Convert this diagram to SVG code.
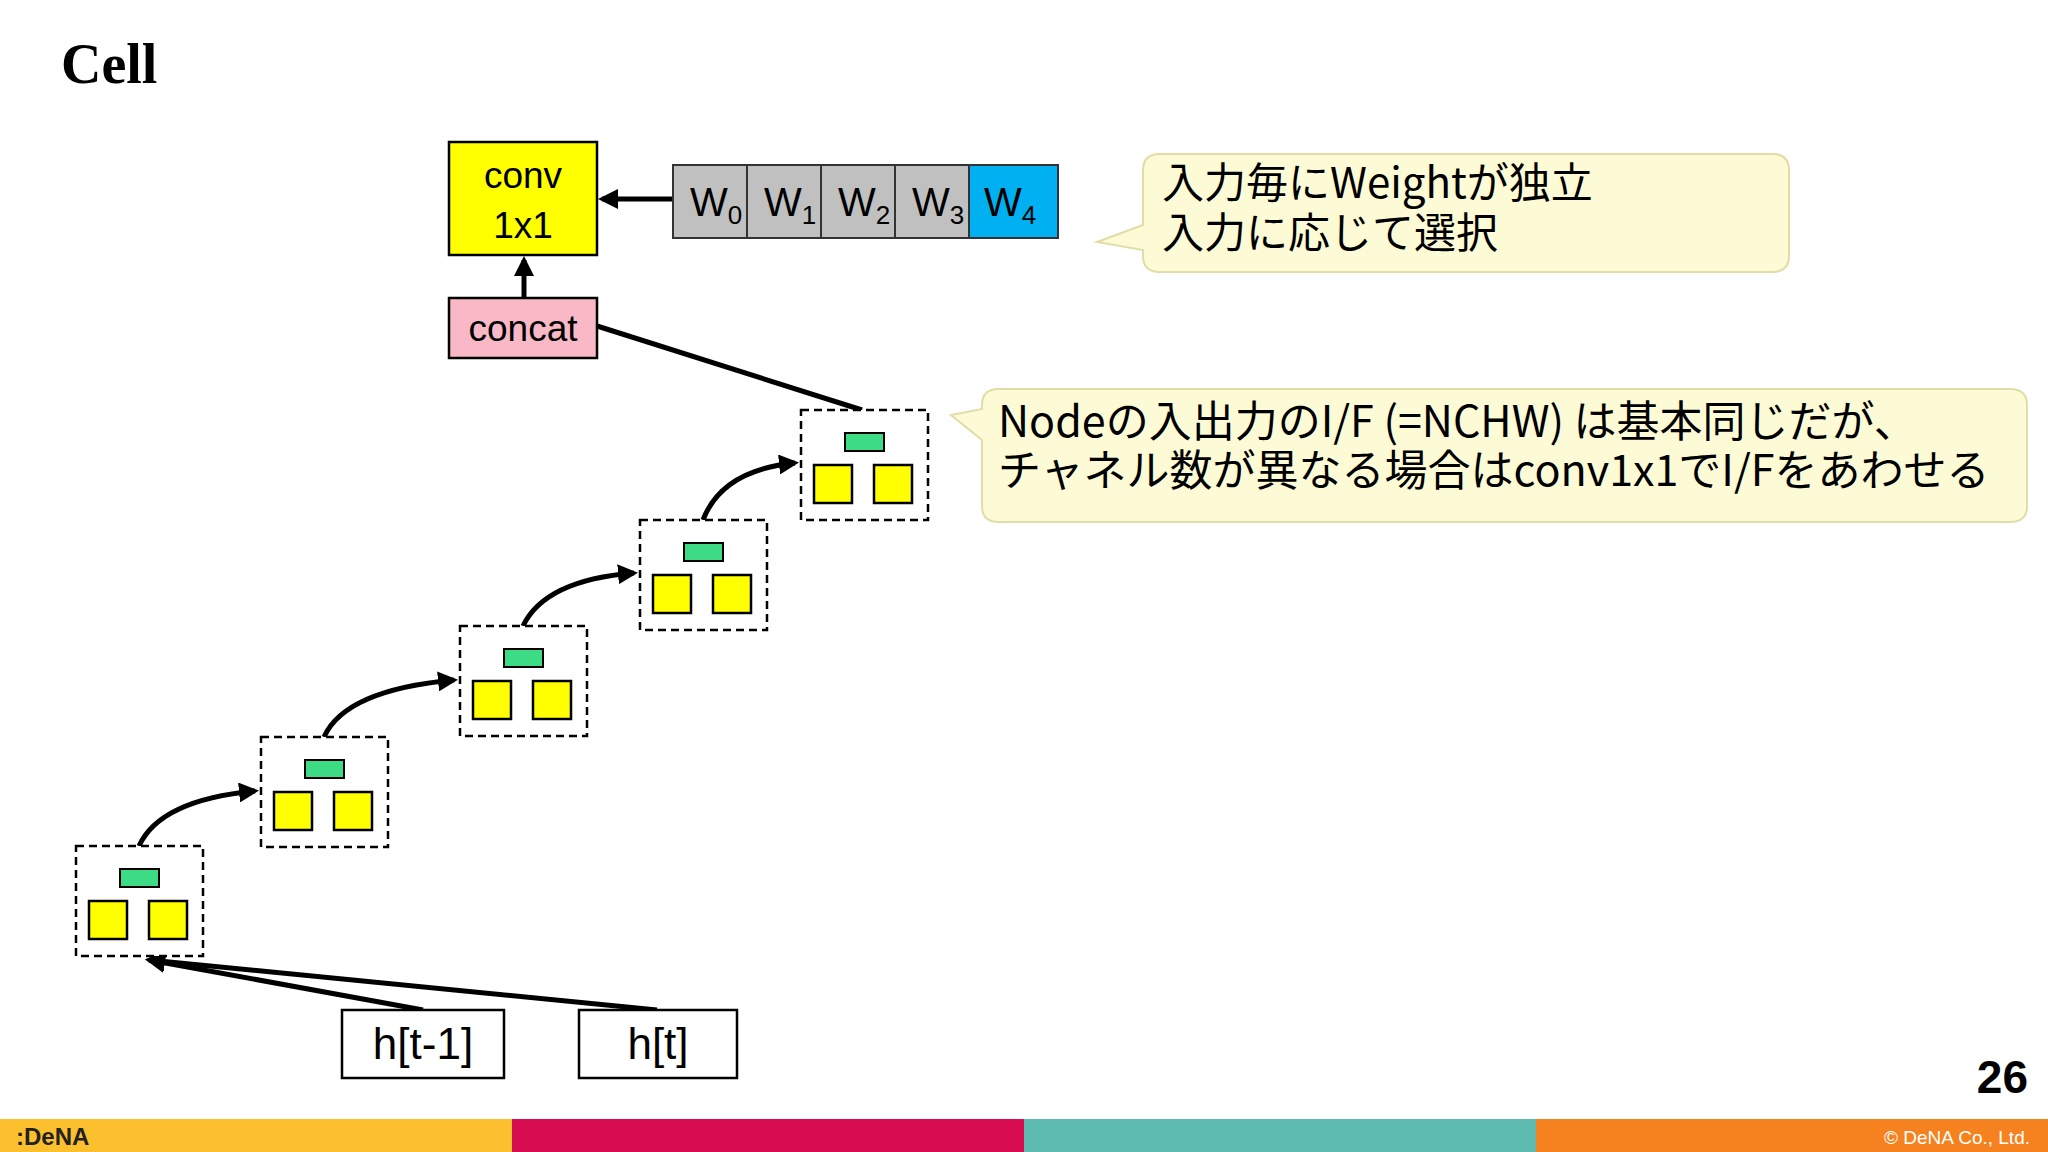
<svg xmlns="http://www.w3.org/2000/svg" width="2048" height="1152" viewBox="0 0 2048 1152">
<defs>
<style>
.s{font-family:"Liberation Sans",Arial,sans-serif;fill:#000}
.j{font-family:"Noto Sans CJK JP","Noto Sans",sans-serif;fill:#000}
.nb{fill:#fff;stroke:#000;stroke-width:2.5;stroke-dasharray:8 5}
.g{fill:#3ddc84;stroke:#000;stroke-width:2}
.y{fill:#ffff00;stroke:#000;stroke-width:2.5}
.w{fill:#c0c0c0;stroke:#333;stroke-width:2}
.ln{fill:none;stroke:#000;stroke-width:5}
.co{fill:#fdfbd6;stroke:#e2dca8;stroke-width:2}
</style>
<marker id="a" viewBox="0 0 10 10" refX="8" refY="5" markerWidth="4" markerHeight="4" orient="auto-start-reverse"><path d="M0,0L10,5L0,10z" fill="#000"/></marker>
</defs>
<rect width="2048" height="1152" fill="#fff"/>
<text x="61" y="83" font-family="Liberation Serif,serif" font-weight="bold" font-size="56">Cell</text>

<g id="connectors">
<line class="ln" x1="673" y1="199" x2="602" y2="199" marker-end="url(#a)"/>
<line class="ln" x1="524" y1="298" x2="524" y2="260" marker-end="url(#a)"/>
<line class="ln" x1="597" y1="326" x2="862" y2="410"/>
<path class="ln" d="M139,846 Q160,800 255,791" marker-end="url(#a)"/>
<path class="ln" d="M324,737 Q345,690 454,680" marker-end="url(#a)"/>
<path class="ln" d="M523,626 Q545,580 634,573" marker-end="url(#a)"/>
<path class="ln" d="M703,520 Q722,470 795,463" marker-end="url(#a)"/>
<line class="ln" x1="423" y1="1010" x2="149" y2="960" marker-end="url(#a)"/>
<line class="ln" x1="657" y1="1010" x2="149" y2="960" marker-end="url(#a)"/>
</g>

<g id="conv"><rect x="449" y="142" width="148" height="113" class="y"/>
<text class="s" x="523" y="188" font-size="37" text-anchor="middle">conv</text>
<text class="s" x="523" y="238" font-size="37" text-anchor="middle">1x1</text></g>
<g id="concat"><rect x="449" y="298" width="148" height="60" fill="#f8b8c6" stroke="#000" stroke-width="2.5"/>
<text class="s" x="523" y="341" font-size="37" text-anchor="middle">concat</text></g>

<g id="weights">
<rect class="w" x="673" y="165" width="74" height="73"/>
<rect class="w" x="747" y="165" width="74" height="73"/>
<rect class="w" x="821" y="165" width="74" height="73"/>
<rect class="w" x="895" y="165" width="74" height="73"/>
<rect x="969" y="165" width="89" height="73" fill="#00b0f0" stroke="#333" stroke-width="2"/>
<g class="s" font-size="40">
<text x="690" y="216">W<tspan font-size="26" dy="8">0</tspan></text>
<text x="764" y="216">W<tspan font-size="26" dy="8">1</tspan></text>
<text x="838" y="216">W<tspan font-size="26" dy="8">2</tspan></text>
<text x="912" y="216">W<tspan font-size="26" dy="8">3</tspan></text>
<text x="984" y="216">W<tspan font-size="26" dy="8">4</tspan></text>
</g></g>

<g id="callout1">
<path class="co" d="M1160,154 H1772 Q1789,154 1789,170 V256 Q1789,272 1772,272 H1160 Q1143,272 1143,256 V250 L1097,242 L1143,225 V170 Q1143,154 1160,154 Z"/>
<text class="j" x="1162" y="198" font-size="42">入力毎にWeightが独立</text>
<text class="j" x="1162" y="248" font-size="42">入力に応じて選択</text></g>
<g id="callout2">
<path class="co" d="M999,389 H2010 Q2027,389 2027,405 V506 Q2027,522 2010,522 H999 Q982,522 982,506 V440 L951,415 L982,409 V405 Q982,389 999,389 Z"/>
<text class="j" x="998" y="437" font-size="43">Nodeの入出力のI/F (=NCHW) は基本同じだが、</text>
<text class="j" x="998" y="486" font-size="43">チャネル数が異なる場合はconv1x1でI/Fをあわせる</text></g>

<g id="node1"><rect class="nb" x="76" y="846" width="127" height="110"/><rect class="g" x="120" y="869" width="39" height="18"/><rect class="y" x="89" y="901" width="38" height="38"/><rect class="y" x="149" y="901" width="38" height="38"/></g>
<g id="node2"><rect class="nb" x="261" y="737" width="127" height="110"/><rect class="g" x="305" y="760" width="39" height="18"/><rect class="y" x="274" y="792" width="38" height="38"/><rect class="y" x="334" y="792" width="38" height="38"/></g>
<g id="node3"><rect class="nb" x="460" y="626" width="127" height="110"/><rect class="g" x="504" y="649" width="39" height="18"/><rect class="y" x="473" y="681" width="38" height="38"/><rect class="y" x="533" y="681" width="38" height="38"/></g>
<g id="node4"><rect class="nb" x="640" y="520" width="127" height="110"/><rect class="g" x="684" y="543" width="39" height="18"/><rect class="y" x="653" y="575" width="38" height="38"/><rect class="y" x="713" y="575" width="38" height="38"/></g>
<g id="node5"><rect class="nb" x="801" y="410" width="127" height="110"/><rect class="g" x="845" y="433" width="39" height="18"/><rect class="y" x="814" y="465" width="38" height="38"/><rect class="y" x="874" y="465" width="38" height="38"/></g>

<g id="ht1"><rect x="342" y="1010" width="162" height="68" fill="#fff" stroke="#000" stroke-width="2.5"/><text class="s" x="423" y="1059" font-size="44" text-anchor="middle">h[t-1]</text></g>
<g id="ht"><rect x="579" y="1010" width="158" height="68" fill="#fff" stroke="#000" stroke-width="2.5"/><text class="s" x="658" y="1059" font-size="44" text-anchor="middle">h[t]</text></g>

<text x="2028" y="1093" font-family="Liberation Sans,sans-serif" font-weight="bold" font-size="46" text-anchor="end">26</text>
<g id="footer">
<rect x="0" y="1119" width="512" height="33" fill="#fcc02e"/>
<rect x="512" y="1119" width="512" height="33" fill="#d80c50"/>
<rect x="1024" y="1119" width="512" height="33" fill="#5dbbb0"/>
<rect x="1536" y="1119" width="512" height="33" fill="#f6821f"/>
<text x="16" y="1145" font-family="Liberation Sans,sans-serif" font-weight="bold" font-size="24" fill="#222">:DeNA</text>
<text x="2030" y="1144" font-family="Liberation Sans,sans-serif" font-size="19" fill="#fff" text-anchor="end">© DeNA Co., Ltd.</text>
</g>
</svg>
